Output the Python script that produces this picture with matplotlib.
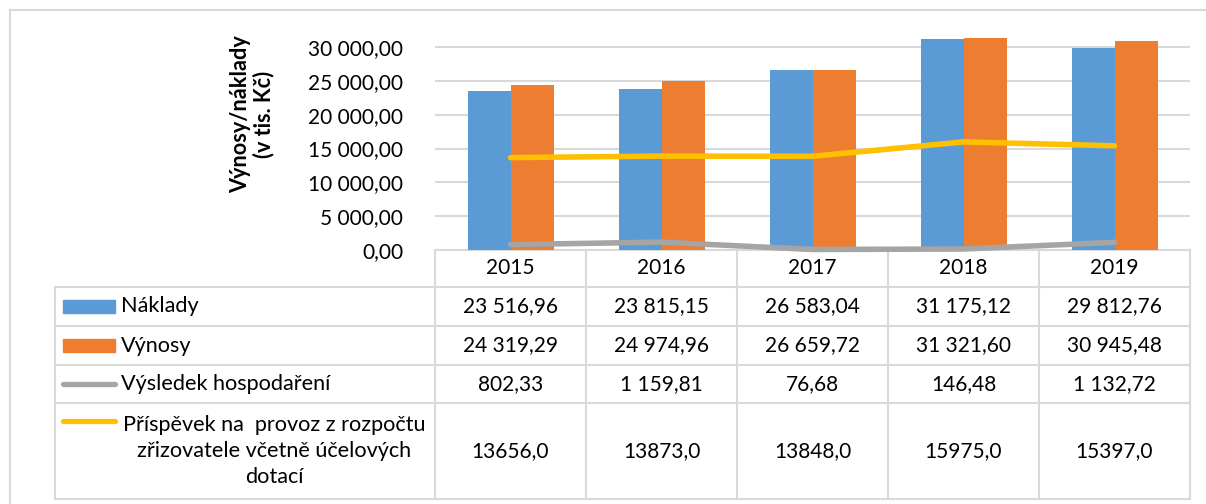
import numpy as np
import matplotlib
matplotlib.use("Agg")
import matplotlib.pyplot as plt
from matplotlib.patches import Rectangle

plt.rcParams['font.family'] = ['Lato', 'DejaVu Sans']

# data
years = ['2015', '2016', '2017', '2018', '2019']
naklady = [23516.96, 23815.15, 26583.04, 31175.12, 29812.76]
vynosy = [24319.29, 24974.96, 26659.72, 31321.60, 30945.48]
vysledek = [802.33, 1159.81, 76.68, 146.48, 1132.72]
prispevek = [13656.0, 13873.0, 13848.0, 15975.0, 15397.0]
series_names = ['Náklady', 'Výnosy', 'Výsledek hospodaření',
                'Příspěvek na  provoz z rozpočtu\nzřizovatele včetně účelových\ndotací']
yticks = [0, 5000, 10000, 15000, 20000, 25000, 30000]

BLUE = '#5b9bd5'
ORANGE = '#ed7d31'
GRAY = '#a5a5a5'
YELLOW = '#ffc000'
GRID = '#d9d9d9'
FS = 15
FS_ROW = 15.6


def cz(v, dec=2, sep=' '):
    s = f"{v:,.{dec}f}"
    return s.replace(',', '#').replace('.', ',').replace('#', sep)


W, H = 1206, 504
fig = plt.figure(figsize=(W / 100, H / 100), dpi=100)

# pixel layout
x0, x1 = 435, 1190
y_zero = 250
px_per_unit = (250 - 47) / 30000.0
ymax = 32000
y_top = y_zero - ymax * px_per_unit

# overlay for frame + data table
ov = fig.add_axes([0, 0, 1, 1], zorder=0)
ov.set_xlim(0, W)
ov.set_ylim(H, 0)
ov.axis('off')

ax = fig.add_axes([x0 / W, 1 - y_zero / H, (x1 - x0) / W, (y_zero - y_top) / H], zorder=1)
ax.patch.set_alpha(0)

x = np.arange(len(years))
bw = 43 / 151
ax.bar(x - bw / 2, naklady, bw, color=BLUE, zorder=2)
ax.bar(x + bw / 2, vynosy, bw, color=ORANGE, zorder=2)
ax.plot(x, vysledek, color=GRAY, lw=4, solid_capstyle='round', clip_on=False, zorder=3)
ax.plot(x, prispevek, color=YELLOW, lw=4, solid_capstyle='round', clip_on=False, zorder=3)

ax.set_xlim(-0.5, len(years) - 0.5)
ax.set_ylim(0, ymax)
ax.set_yticks(yticks)
ax.set_yticklabels([cz(v) for v in yticks], fontsize=FS)
ax.tick_params(axis='y', length=0, pad=23)
ax.set_xticks([])
ax.yaxis.grid(True, color=GRID, lw=1.5, zorder=0)
ax.set_axisbelow(True)
for s in ax.spines.values():
    s.set_visible(False)

ov.text(252, 114, 'Výnosy/náklady\n(v tis. Kč)', rotation=90, ha='center', va='center',
        fontsize=15.6, fontweight='bold', linespacing=1.1)

# outer frame
ov.plot([10, W], [10, 10], color=GRID, lw=1.5)
ov.plot([10, 10], [10, H], color=GRID, lw=1.5)

# data table grid
tl = 55
rows = [250, 287, 326, 365, 403, 499]
colw = (x1 - x0) / len(years)
ov.plot([x0, x1], [rows[0], rows[0]], color=GRID, lw=1.5)
for r in rows[1:]:
    ov.plot([tl, x1], [r, r], color=GRID, lw=1.5)
ov.plot([tl, tl], [rows[1], rows[-1]], color=GRID, lw=1.5)
for k in range(len(years) + 1):
    xx = x0 + k * colw
    ov.plot([xx, xx], [rows[0], rows[-1]], color=GRID, lw=1.5)

centers = [(rows[i] + rows[i + 1]) / 2 for i in range(len(rows) - 1)]
for k, yr in enumerate(years):
    ov.text(x0 + (k + 0.5) * colw, centers[0], yr, ha='center', va='center', fontsize=FS)

table_rows = [
    [cz(v) for v in naklady],
    [cz(v) for v in vynosy],
    [cz(v) for v in vysledek],
    [cz(v, 1, '') for v in prispevek],
]
for i, vals in enumerate(table_rows):
    for k, s in enumerate(vals):
        ov.text(x0 + (k + 0.5) * colw, centers[i + 1], s, ha='center', va='center', fontsize=FS)

# legend keys + names
kx0, kx1 = 63, 115
for i, c in enumerate([BLUE, ORANGE]):
    cy = centers[i + 1]
    ov.add_patch(Rectangle((kx0, cy - 6.5), kx1 - kx0, 13, color=c))
    ov.text(121, cy, series_names[i], ha='left', va='center', fontsize=FS_ROW)
ov.plot([kx0, kx1], [centers[3], centers[3]], color=GRAY, lw=3.8, solid_capstyle='round')
ov.text(121, centers[3], series_names[2], ha='left', va='center', fontsize=FS_ROW)
ov.plot([kx0, kx1], [421, 421], color=YELLOW, lw=3.8, solid_capstyle='round')
ov.text(274, 451, series_names[3], ha='center', va='center', fontsize=FS_ROW, linespacing=1.4)

fig.savefig('out.png', dpi=100)
